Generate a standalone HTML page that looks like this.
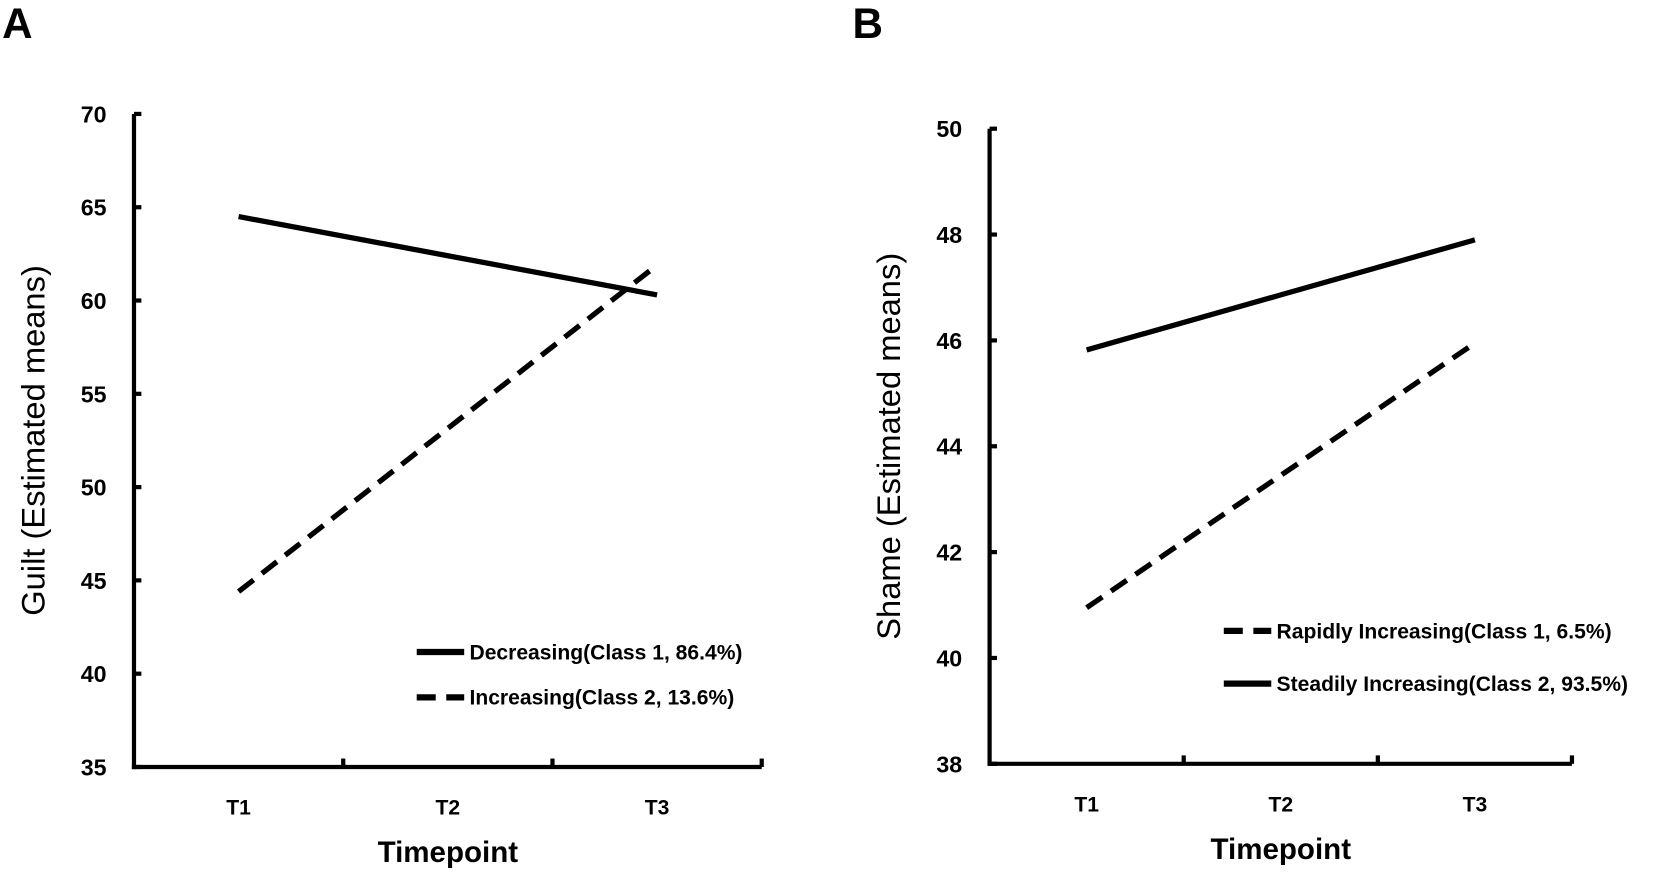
<!DOCTYPE html>
<html><head><meta charset="utf-8"><style>
body{margin:0;background:#fff;}
svg text{font-family:"Liberation Sans",sans-serif;}
</style></head><body>
<svg width="1653" height="878" viewBox="0 0 1653 878" xmlns="http://www.w3.org/2000/svg">
<g transform="scale(1.055)">
<g id="A"></g>
<g id="B"></g>
</g>
</svg>
<script>
const categories=["T1","T2","T3"];
const aTicks=[35,40,45,50,55,60,65,70];
const aDecreasing=[64.5,62.4,60.3];
const aIncreasing=[44.4,53.15,61.9];
const bTicks=[38,40,42,44,46,48,50];
const bRapid=[40.95,43.45,45.95];
const bSteady=[45.82,46.86,47.9];
const NS="http://www.w3.org/2000/svg";
function mk(p,t,a){const e=document.createElementNS(NS,t);for(const k in a)e.setAttribute(k,a[k]);p.appendChild(e);return e;}
function panel(g,o){
 const y=v=>o.y1-(v-o.vmin)/(o.vmax-o.vmin)*(o.y1-o.y0);
 const step=(o.x1-o.x0)/categories.length;
 const x=i=>o.x0+step*(i+0.5);
 const letter=mk(g,'text',{x:o.lx,y:36,'font-size':40,'font-weight':'bold'});letter.textContent=o.letter;
 
 
 const ya=mk(g,'line',{x1:o.x0,y1:o.y0,x2:o.x0,y2:o.y1+2,stroke:'#000','stroke-width':4});
 
 
 const xa=mk(g,'line',{x1:o.x0-2,y1:o.y1,x2:o.x1,y2:o.y1,stroke:'#000','stroke-width':4});
 
 
 o.ticks.forEach(v=>{
  mk(g,'line',{x1:o.x0,y1:y(v),x2:o.x0+7,y2:y(v),stroke:'#000','stroke-width':4});
  const t=mk(g,'text',{x:o.x0-26,y:y(v)+8,'font-size':22,'font-weight':'bold','text-anchor':'end'});t.textContent=v;
  
  
 });
 for(let i=1;i<=categories.length;i++){mk(g,'line',{x1:o.x0+step*i,y1:o.y1,x2:o.x0+step*i,y2:o.y1-8,stroke:'#000','stroke-width':4});}
 categories.forEach((c,i)=>{const t=mk(g,'text',{x:x(i),y:o.y1+45,'font-size':20,'font-weight':'bold','text-anchor':'middle'});t.textContent=c;
  
  });
 const xt=mk(g,'text',{x:(o.x0+o.x1)/2,y:o.y1+90,'font-size':28,'font-weight':'bold','text-anchor':'middle'});xt.textContent='Timepoint';
 
 
 const cy=(o.y0+o.y1)/2;
 const tx=o.x0-85;
 const yt=mk(g,'text',{x:tx,y:cy,'font-size':31,'text-anchor':'middle',transform:`rotate(-90 ${tx} ${cy})`});yt.textContent=o.ytitle;
 
 
 o.series.forEach(s=>{
  const pts=s.data.map((v,i)=>x(i)+','+y(v)).join(' ');
  const l=mk(g,'polyline',{points:pts,fill:'none',stroke:'#000','stroke-width':5,'stroke-dasharray':s.dash?'18 10':'none'});
  
  
  const ll=mk(g,'line',{x1:s.lx,y1:s.ly,x2:s.lx+45,y2:s.ly,stroke:'#000','stroke-width':6,'stroke-dasharray':s.dash?'18 10':'none'});
  
  
  const lt=mk(g,'text',{x:s.lx+50,y:s.ly+7,'font-size':20,'font-weight':'bold'});lt.textContent=s.label;
  
  
 });
}
panel(document.getElementById('A'),{letter:'A',lx:2,x0:127,x1:722,y0:108,y1:727,vmin:35,vmax:70,ticks:aTicks,ytitle:'Guilt (Estimated means)',
 series:[{name:'decreasing-line',data:aDecreasing,dash:false,label:'Decreasing(Class 1, 86.4%)',lx:395,ly:618},
 {name:'increasing-line',data:aIncreasing,dash:true,label:'Increasing(Class 2, 13.6%)',lx:395,ly:661}]});
panel(document.getElementById('B'),{letter:'B',lx:808,x0:938,x1:1490,y0:122,y1:724,vmin:38,vmax:50,ticks:bTicks,ytitle:'Shame (Estimated means)',
 series:[{name:'rapidly-increasing-line',data:bRapid,dash:true,label:'Rapidly Increasing(Class 1, 6.5%)',lx:1160,ly:598},
 {name:'steadily-increasing-line',data:bSteady,dash:false,label:'Steadily Increasing(Class 2, 93.5%)',lx:1160,ly:648}]});
</script>
</body></html>
